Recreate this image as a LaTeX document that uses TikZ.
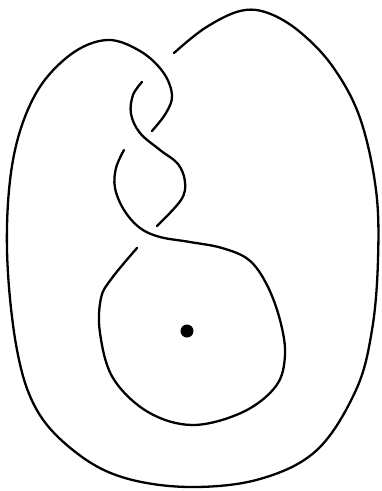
\documentclass[tikz,border=0pt]{standalone}
\begin{document}
\begin{tikzpicture}[x=1pt,y=-1pt,
  strand/.style={line width=2.3pt,line cap=round,line join=round},
  dotmark/.style={fill=black,circle,inner sep=0pt,minimum size=13pt}]
\useasboundingbox (0,0) rectangle (382,491);
\draw[strand] plot[smooth,tension=0.6] coordinates {(174,53) (205,28) (240,11) (268,13) (300,32) (333,67) (360,118) (376,190) (378,260) (372,330) (356,390) (317,450) (260,479) (190,487) (125,478) (78,454) (38,412) (17,350) (7,250) (13,160) (35,95) (70,55) (107,40) (140,51) (163,72) (172,95) (166,113) (152,131)};
\draw[strand] plot[smooth,tension=0.6] coordinates {(142,82) (133,95) (131,114) (140,133) (160,150) (178,164) (185,182) (181,200) (157,226)};
\draw[strand] plot[smooth,tension=0.6] coordinates {(124,150) (116,168) (115,188) (124,210) (140,228) (160,237) (190,242) (222,248) (249,260) (267,285) (280,320) (285,355) (276,386) (243,412) (193,425) (148,412) (113,378) (100,333) (101,298) (112,278) (137,248)};
\node[dotmark] (dot) at (187,331) {};
\end{tikzpicture}
\end{document}
